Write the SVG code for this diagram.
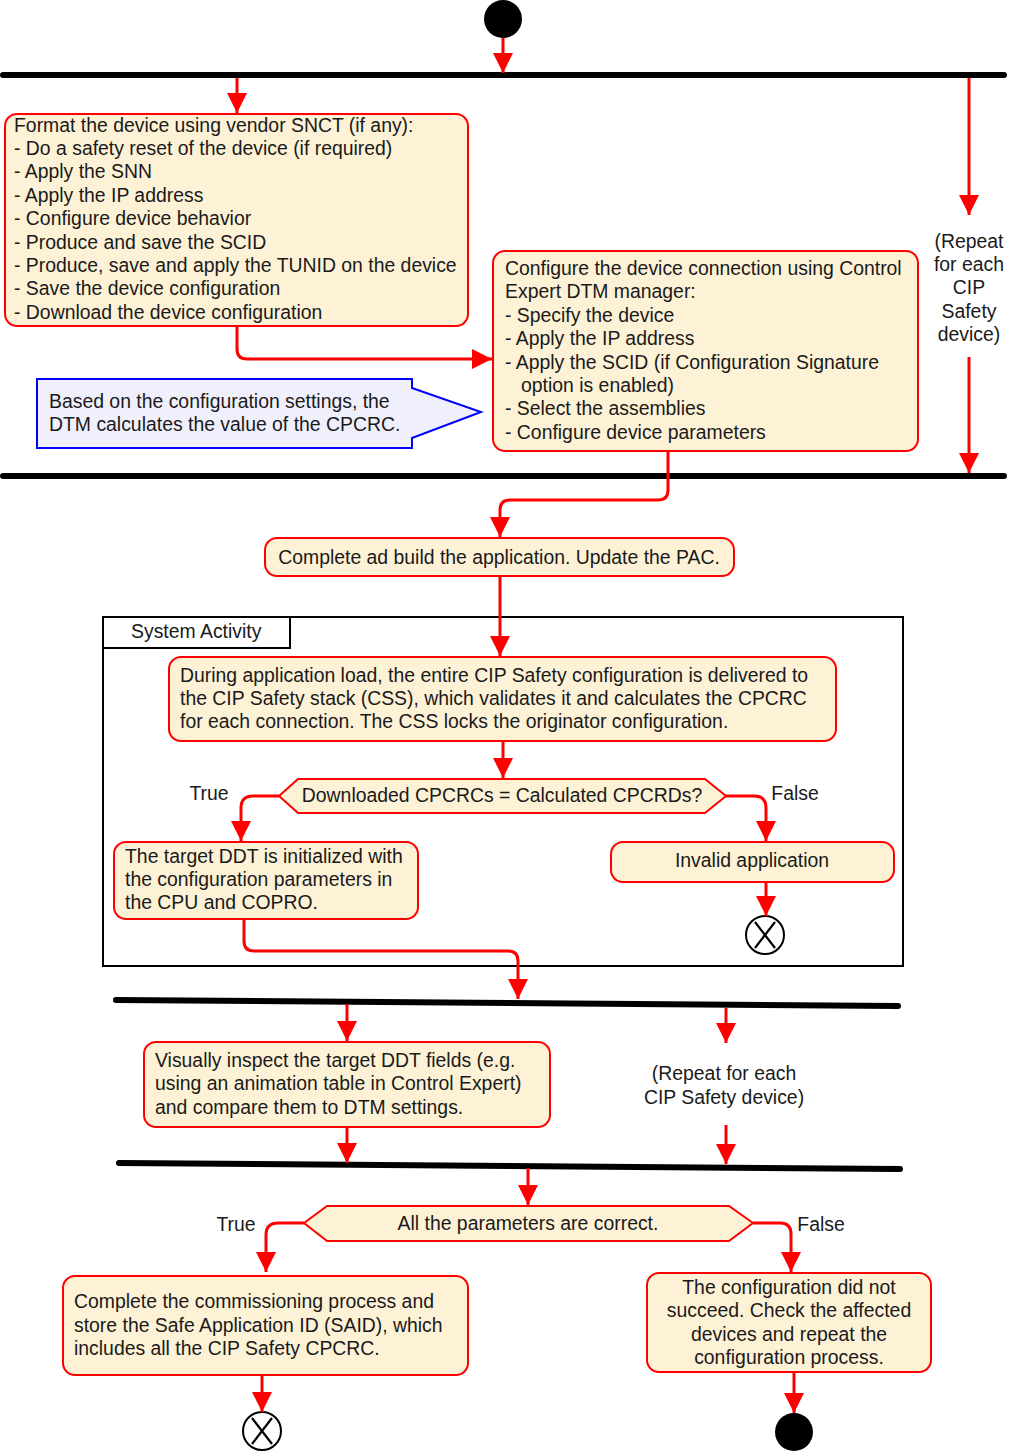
<svg xmlns="http://www.w3.org/2000/svg" width="1010" height="1454" viewBox="0 0 1010 1454">
<defs>
<marker id="ah" viewBox="0 0 20 20" refX="20" refY="10" markerWidth="20" markerHeight="20" orient="auto" markerUnits="userSpaceOnUse"><path d="M0,0 L20,10 L0,20 z" fill="#ff0000"/></marker>
<style>
.box{fill:#fdf2d6;stroke:#ff0000;stroke-width:2}
.bar{stroke:#000;stroke-width:6;stroke-linecap:round;fill:none}
.con{stroke:#ff0000;stroke-width:3;fill:none;marker-end:url(#ah)}
text{font-family:"Liberation Sans",Arial,sans-serif;font-size:19.4px;fill:#1a1a1a}
.c{text-anchor:middle}
</style>
</defs>
<rect width="1010" height="1454" fill="#fff"/>
<g id="bars">
<line class="bar" x1="3" y1="75" x2="1004" y2="75"/>
<line class="bar" x1="3" y1="476" x2="1004" y2="476"/>
<line class="bar" x1="116" y1="1000" x2="898" y2="1006"/>
<line class="bar" x1="119" y1="1163" x2="900" y2="1169"/>
</g>
<g id="start"><circle cx="503" cy="19" r="19" fill="#000"/></g>
<g id="frame">
<rect x="103" y="617" width="800" height="349" fill="none" stroke="#000" stroke-width="2"/>
<rect x="103" y="617" width="187" height="31" fill="#fff" stroke="#000" stroke-width="2"/>
<text x="131" y="638">System Activity</text>
</g>
<g id="n1">
<rect class="box" x="5" y="114" width="463" height="212" rx="12"/>
<text x="14" y="132">Format the device using vendor SNCT (if any):</text>
<text x="14" y="155">- Do a safety reset of the device (if required)</text>
<text x="14" y="178">- Apply the SNN</text>
<text x="14" y="202">- Apply the IP address</text>
<text x="14" y="225">- Configure device behavior</text>
<text x="14" y="249">- Produce and save the SCID</text>
<text x="14" y="272">- Produce, save and apply the TUNID on the device</text>
<text x="14" y="295">- Save the device configuration</text>
<text x="14" y="319">- Download the device configuration</text>
</g>
<g id="n2">
<rect class="box" x="493" y="251" width="425" height="200" rx="12"/>
<text x="505" y="275">Configure the device connection using Control</text>
<text x="505" y="298">Expert DTM manager:</text>
<text x="505" y="322">- Specify the device</text>
<text x="505" y="345">- Apply the IP address</text>
<text x="505" y="369">- Apply the SCID (if Configuration Signature</text>
<text x="521" y="392">option is enabled)</text>
<text x="505" y="415">- Select the assemblies</text>
<text x="505" y="439">- Configure device parameters</text>
</g>
<g id="note">
<path d="M37,379 H412 V388 L481,412 L412,438 V448 H37 Z" fill="#f0f0fd" stroke="#0000ff" stroke-width="2"/>
<text x="49" y="408">Based on the configuration settings, the</text>
<text x="49" y="431">DTM calculates the value of the CPCRC.</text>
</g>
<g id="repeat1">
<text class="c" x="969" y="248">(Repeat</text>
<text class="c" x="969" y="271">for each</text>
<text class="c" x="969" y="294">CIP</text>
<text class="c" x="969" y="318">Safety</text>
<text class="c" x="969" y="341">device)</text>
</g>
<g id="n3">
<rect class="box" x="265" y="538" width="469" height="38" rx="12"/>
<text class="c" x="499" y="564">Complete ad build the application. Update the PAC.</text>
</g>
<g id="n4">
<rect class="box" x="169" y="657" width="667" height="84" rx="12"/>
<text x="180" y="682">During application load, the entire CIP Safety configuration is delivered to</text>
<text x="180" y="705">the CIP Safety stack (CSS), which validates it and calculates the CPCRC</text>
<text x="180" y="728">for each connection. The CSS locks the originator configuration.</text>
</g>
<g id="d1">
<path class="box" d="M279,796 L298,779 H705 L726,796 L705,813 H298 Z"/>
<text class="c" x="502" y="802">Downloaded CPCRCs = Calculated CPCRDs?</text>
<text class="c" x="209" y="800">True</text>
<text class="c" x="795" y="800">False</text>
</g>
<g id="n5">
<rect class="box" x="114" y="842" width="304" height="77" rx="12"/>
<text x="125" y="863">The target DDT is initialized with</text>
<text x="125" y="886">the configuration parameters in</text>
<text x="125" y="909">the CPU and COPRO.</text>
</g>
<g id="n6">
<rect class="box" x="611" y="842" width="283" height="40" rx="12"/>
<text class="c" x="752" y="867">Invalid application</text>
</g>
<g id="end1">
<circle cx="765" cy="935" r="19" fill="#fff" stroke="#000" stroke-width="2"/>
<path d="M755,922 L775,948 M775,922 L755,948" stroke="#000" stroke-width="2.2"/>
</g>
<g id="n7">
<rect class="box" x="144" y="1042" width="406" height="85" rx="12"/>
<text x="155" y="1067">Visually inspect the target DDT fields (e.g.</text>
<text x="155" y="1090">using an animation table in Control Expert)</text>
<text x="155" y="1114">and compare them to DTM settings.</text>
</g>
<g id="repeat2">
<text class="c" x="724" y="1080">(Repeat for each</text>
<text class="c" x="724" y="1104">CIP Safety device)</text>
</g>
<g id="d2">
<path class="box" d="M304,1223 L327,1206 H729 L753,1223 L729,1241 H327 Z"/>
<text class="c" x="528" y="1230">All the parameters are correct.</text>
<text class="c" x="236" y="1231">True</text>
<text class="c" x="821" y="1231">False</text>
</g>
<g id="n8">
<rect class="box" x="63" y="1276" width="405" height="99" rx="12"/>
<text x="74" y="1308">Complete the commissioning process and</text>
<text x="74" y="1332">store the Safe Application ID (SAID), which</text>
<text x="74" y="1355">includes all the CIP Safety CPCRC.</text>
</g>
<g id="n9">
<rect class="box" x="647" y="1273" width="284" height="99" rx="12"/>
<text class="c" x="789" y="1294">The configuration did not</text>
<text class="c" x="789" y="1317">succeed. Check the affected</text>
<text class="c" x="789" y="1341">devices and repeat the</text>
<text class="c" x="789" y="1364">configuration process.</text>
</g>
<g id="end2">
<ellipse cx="262" cy="1431" rx="19" ry="19" fill="#fff" stroke="#000" stroke-width="2"/>
<path d="M252,1418 L272,1444 M272,1418 L252,1444" stroke="#000" stroke-width="2.2"/>
</g>
<g id="end3"><circle cx="794" cy="1432" r="19" fill="#000"/></g>
<g id="connectors">
<path class="con" d="M503,38 V73"/>
<path class="con" d="M237,78 V113"/>
<path class="con" d="M969,78 V215"/>
<path class="con" d="M969,357 V473"/>
<path class="con" d="M237,326 V349 Q237,359 247,359 H492"/>
<path class="con" d="M668,451 V490 Q668,500 658,500 H510 Q500,500 500,510 V537"/>
<path class="con" d="M500,576 V656"/>
<path class="con" d="M503,741 V778"/>
<path class="con" d="M279,796 H253 Q241,796 241,808 V841"/>
<path class="con" d="M726,796 H754 Q766,796 766,808 V841"/>
<path class="con" d="M766,882 V916"/>
<path class="con" d="M244,919 V941 Q244,951 254,951 H508 Q518,951 518,961 V999"/>
<path class="con" d="M347,1004 V1041"/>
<path class="con" d="M726,1008 V1043"/>
<path class="con" d="M347,1127 V1163"/>
<path class="con" d="M726,1125 V1164"/>
<path class="con" d="M528,1168 V1205"/>
<path class="con" d="M304,1223 H278 Q266,1223 266,1235 V1272"/>
<path class="con" d="M753,1223 H780 Q791,1223 791,1234 V1272"/>
<path class="con" d="M262,1376 V1412"/>
<path class="con" d="M794,1372 V1413"/>
</g>
</svg>
